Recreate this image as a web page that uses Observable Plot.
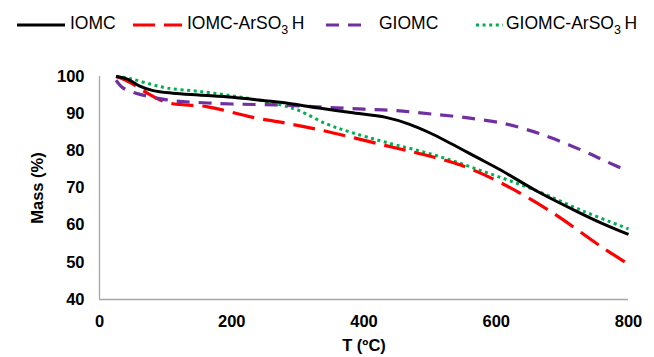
<!DOCTYPE html>
<html>
<head>
<meta charset="utf-8">
<script src="https://cdn.jsdelivr.net/npm/d3@7"></script>
<script src="https://cdn.jsdelivr.net/npm/@observablehq/plot@0.6"></script>
<style>
  body { margin: 0; background: #fff; font-family: "Liberation Sans", Arial, sans-serif; }
  #legend { position: relative; width: 654px; height: 45px; }
  #legend .lab { position: absolute; top: 15px; font-size: 17.5px; color: #000; white-space: nowrap; line-height: 1; }
  #legend sub { font-size: 12.5px; vertical-align: -5px; line-height: 0; }
  #legend svg { position: absolute; top: 0; left: 0; }
</style>
</head>
<body>
<div id="legend"></div>
<div id="chart"></div>
<script>
// ---- data ----
const seriesNames = ["IOMC", "IOMC-ArSO3H", "GIOMC", "GIOMC-ArSO3H"];

const iomcT    = [25, 42, 60, 81, 111, 150, 201, 250, 277, 332, 380, 433, 468, 500, 532, 570, 608, 659, 723, 760, 800];
const iomcMass = [100, 99.3, 97.5, 96.2, 95.5, 95.0, 94.4, 93.5, 93.0, 91.5, 90.3, 89.0, 87.2, 84.8, 81.9, 78.3, 74.7, 69.4, 63.6, 60.5, 57.5];

const iomcSO3HT    = [25, 32, 50, 66, 102, 162, 232, 280, 337, 433, 490, 547, 608, 683, 758, 800];
const iomcSO3HMass = [100, 99.6, 98.0, 96.2, 93.0, 91.9, 89.0, 87.5, 85.5, 81.4, 79.0, 76.1, 71.3, 63.6, 54.3, 49.5];

const giomcT    = [25, 35, 51, 102, 150, 201, 277, 344, 400, 450, 502, 560, 613, 650, 683, 734, 768, 800];
const giomcMass = [99, 97, 95.7, 93.7, 93.0, 92.6, 92.3, 91.7, 91.2, 90.8, 89.9, 88.8, 87.3, 85.5, 83.5, 79.8, 77.0, 74.5];

const giomcSO3HT    = [25, 45, 70, 102, 150, 201, 250, 277, 302, 344, 380, 433, 508, 583, 659, 734, 800];
const giomcSO3HMass = [100, 99.5, 98.3, 96.9, 96.0, 94.8, 93.3, 92.2, 90.8, 87.2, 85.0, 82.3, 78.8, 74.3, 69.4, 63.6, 59.0];

const xTicks = [0, 200, 400, 600, 800];
const yTicks = [40, 50, 60, 70, 80, 90, 100];

// ---- styles ----
const styles = {
  "IOMC":         {stroke: "#000000", strokeWidth: 3, dash: null, cap: "butt"},
  "IOMC-ArSO3H":  {stroke: "#FF0000", strokeWidth: 3.2, dash: "22 9", cap: "butt"},
  "GIOMC":        {stroke: "#7030A0", strokeWidth: 3.2, dash: "13 9", cap: "butt"},
  "GIOMC-ArSO3H": {stroke: "#00B050", strokeWidth: 3, dash: "3 3.6", cap: "butt"}
};

const toRows = (name, T, M) => T.map((t, i) => ({series: name, T: t, mass: M[i]}));
const rows = {
  "IOMC": toRows("IOMC", iomcT, iomcMass),
  "IOMC-ArSO3H": toRows("IOMC-ArSO3H", iomcSO3HT, iomcSO3HMass),
  "GIOMC": toRows("GIOMC", giomcT, giomcMass),
  "GIOMC-ArSO3H": toRows("GIOMC-ArSO3H", giomcSO3HT, giomcSO3HMass)
};

// drawing order: green under, then red, purple, black
const order = ["GIOMC-ArSO3H", "IOMC-ArSO3H", "GIOMC", "IOMC"];

const lineMarks = order.map(name => {
  const s = styles[name];
  const opts = {x: "T", y: "mass", stroke: s.stroke, strokeWidth: s.strokeWidth, curve: "catmull-rom", strokeLinecap: s.cap};
  if (s.dash) opts.strokeDasharray = s.dash;
  return Plot.line(rows[name], opts);
});

const chart = Plot.plot({
  width: 654,
  height: 312,
  marginTop: 31,
  marginBottom: 58,
  marginLeft: 99,
  marginRight: 26,
  style: {fontFamily: "'Liberation Sans', Arial, sans-serif", background: "#fff"},
  x: {domain: [0, 800]},
  y: {domain: [40, 100]},
  marks: [
    Plot.ruleX([0], {stroke: "#A6A6A6", strokeWidth: 1.3}),
    Plot.ruleY([40], {stroke: "#A6A6A6", strokeWidth: 1.3}),
    ...lineMarks,
    Plot.axisX(xTicks, {tickSize: 0, tickPadding: 16, fontSize: 16.5, fontWeight: "bold", fill: "#000",
      label: "T (ºC)", labelAnchor: "center", labelArrow: "none", labelOffset: 51}),
    Plot.axisY(yTicks, {tickSize: 0, tickPadding: 15, fontSize: 16.5, fontWeight: "bold", fill: "#000",
      label: "Mass (%)", labelAnchor: "center", labelArrow: "none", labelOffset: 68})
  ]
});
// make axis titles bold to match the reference
d3.select(chart).selectAll("[aria-label='x-axis label'] text, [aria-label='y-axis label'] text")
  .attr("font-weight", "bold").attr("font-size", 16.5);
document.getElementById("chart").appendChild(chart);

// ---- legend ----
const legendLayout = [
  {name: "IOMC", x1: 17, x2: 65, tx: 70},
  {name: "IOMC-ArSO3H", x1: 133, x2: 182, tx: 187},
  {name: "GIOMC", x1: 326, x2: 363, tx: 379},
  {name: "GIOMC-ArSO3H", x1: 476, x2: 503, tx: 506}
];
const legend = d3.select("#legend");
const lsvg = legend.append("svg").attr("width", 654).attr("height", 45);
legendLayout.forEach(d => {
  const s = styles[d.name];
  const ln = lsvg.append("line").attr("x1", d.x1).attr("x2", d.x2).attr("y1", 25).attr("y2", 25)
    .attr("stroke", s.stroke).attr("stroke-width", s.strokeWidth).attr("stroke-linecap", s.cap);
  if (s.dash) ln.attr("stroke-dasharray", s.dash);
  const label = d.name.replace("SO3H", "SO<sub>3</sub>&thinsp;H");
  legend.append("div").attr("class", "lab").style("left", d.tx + "px").html(label);
});
</script>
</body>
</html>
